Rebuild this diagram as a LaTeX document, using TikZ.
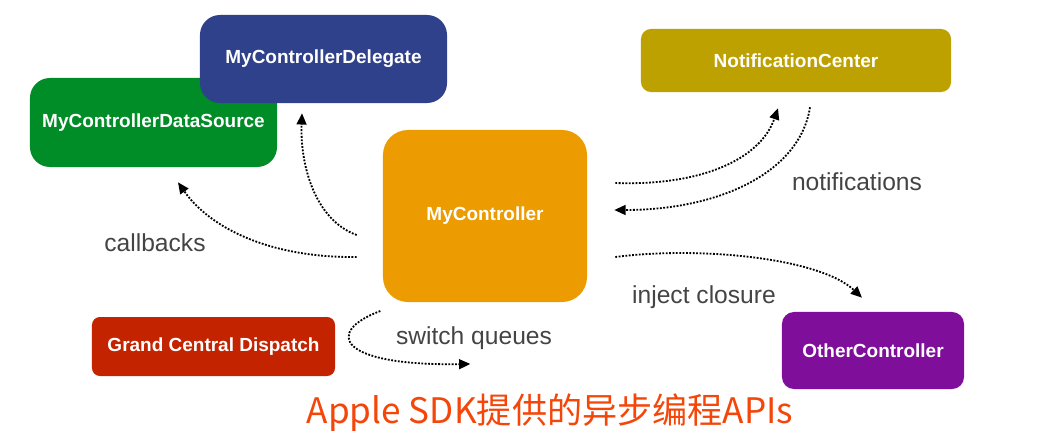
\documentclass[tikz,border=0pt]{standalone}
\usepackage{fontspec}
\setmainfont{Liberation Sans}
\newfontfamily\cjk{Noto Sans CJK SC}
\usetikzlibrary{arrows.meta,calc}
\definecolor{dlgblue}{HTML}{2F418A}
\definecolor{dsgreen}{HTML}{008C26}
\definecolor{ctrlorange}{HTML}{EC9B00}
\definecolor{ncolive}{HTML}{BDA100}
\definecolor{gcdred}{HTML}{C42300}
\definecolor{otherpurple}{HTML}{7F0F9B}
\definecolor{lblgray}{HTML}{444444}
\definecolor{titlered}{HTML}{F5460A}
\begin{document}
\begin{tikzpicture}[x=0.025cm,y=-0.025cm,
  box/.style={fill=#1,text=white,inner sep=0pt,font=\bfseries\fontsize{13.5}{16}\selectfont},
  lbl/.style={text=lblgray,font=\fontsize{17.5}{20}\selectfont},
  conn/.style={dash pattern=on 1.3pt off 1.1pt,line width=1.3pt,-{Triangle[length=8pt,width=7pt]}}]
\useasboundingbox (0,0) rectangle (1063,442);

\node[box=dsgreen,rounded corners=0.5cm,minimum width=6.175cm,minimum height=2.225cm] (ds) at (153.5,122.5) {MyControllerDataSource};
\node[box=dlgblue,rounded corners=0.5cm,minimum width=6.175cm,minimum height=2.2cm] (dlg) at (323.5,59) {MyControllerDelegate};
\node[box=ctrlorange,rounded corners=0.625cm,minimum width=5.1cm,minimum height=4.3cm] (ctrl) at (485,216) {MyController};
\node[box=ncolive,rounded corners=0.25cm,minimum width=7.75cm,minimum height=1.575cm] (nc) at (796,60.5) {NotificationCenter};
\node[box=gcdred,rounded corners=0.2cm,minimum width=6.075cm,minimum height=1.475cm] (gcd) at (213.5,346.5) {Grand Central Dispatch};
\node[box=otherpurple,rounded corners=0.3cm,minimum width=4.55cm,minimum height=1.925cm] (other) at (873,350.5) {OtherController};

% callbacks
\draw[conn] ($(ctrl.west)+(-26,41)$) .. controls (270,258) and (210,228) .. ($(ds.south)+(24.5,15)$);
\draw[conn] ($(ctrl.west)+(-26,19)$) .. controls (315,220) and (300,165) .. ($(dlg.south)+(-21.5,10)$);
% notifications
\draw[conn] ($(ctrl.east)+(28,-33)$) .. controls (700,186) and (760,160) .. ($(nc.south)+(-18,16)$);
\draw[conn] ($(nc.south)+(14,15)$) .. controls (800,172) and (720,210) .. ($(ctrl.east)+(27,-6)$);
% inject closure
\draw[conn] ($(ctrl.east)+(28,41)$) .. controls (700,246) and (820,258) .. ($(other.north)+(-11,-14)$);
% switch queues
\draw[conn] ($(gcd.east)+(45,-35.5)$) .. controls (324,332) and (338,366) .. ($(gcd.east)+(135,17.5)$);

\node[lbl] (cbl) at (155,243) {callbacks};
\node[lbl] (ntl) at (857,182) {notifications};
\node[lbl] (inl) at (704,297) {inject closure};
\node[lbl] (swl) at (474,338) {switch queues};

\node[text=titlered,font=\cjk\fontsize{25}{30}\selectfont] (title) at (550,413) {Apple SDK提供的异步编程APIs};
\end{tikzpicture}
\end{document}
